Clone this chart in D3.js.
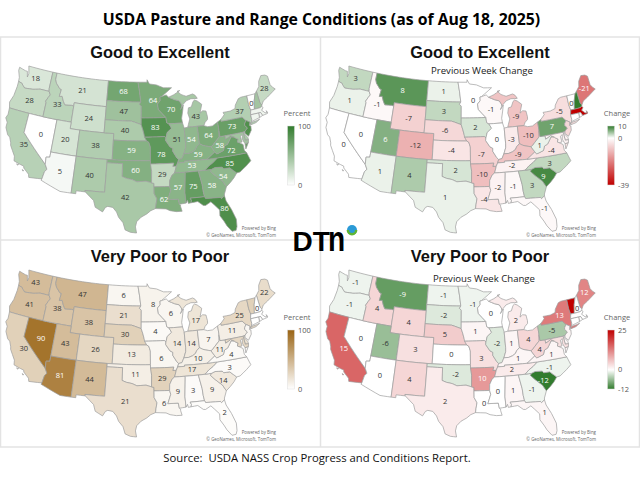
<!DOCTYPE html>
<html>
<head>
<meta charset="utf-8">
<style>
  html, body { margin: 0; padding: 0; background: #fff; }
  svg { display: block; }
</style>
<script src="https://d3js.org/d3.v7.min.js"></script>
</head>
<body>
<div id="chart"></div>
<script>
// values, one per state, same order as stateNames
const stateNames = ["WA","OR","CA","NV","ID","MT","WY","UT","AZ","CO","NM","ND","SD","NE","KS","OK","TX","MN","IA","MO","AR","LA","WI","IL","MI","IN","OH","KY","TN","MS","AL","GA","FL","SC","NC","VA","WV","PA","NY","ME","VT","NH","MA","RI","CT","NJ","DE","MD"];
const goodExcellent = [18,28,35,0,33,21,24,20,5,38,40,68,47,40,59,60,42,64,83,78,29,62,70,51,43,54,64,59,53,57,75,58,86,54,85,72,58,73,37,28,0,45,8,5,8,85,40,45];
const goodChange = [3,1,0,0,-1,8,-7,6,1,-12,4,1,3,-6,-4,2,1,0,2,-7,-10,-4,-1,0,-9,-3,-10,-9,-2,-2,-1,3,-1,9,3,-4,1,7,-5,-21,0,10,-39,0,0,-6,-2,-2];
const poorValues = [43,41,30,90,38,47,38,43,81,26,44,6,21,30,13,11,21,8,4,6,29,6,6,14,17,14,7,10,17,9,3,9,2,14,3,4,11,11,25,22,30,0,0,0,0,5,20,25];
const poorChange = [-1,-1,15,0,4,-9,4,-6,0,3,4,-1,-2,5,0,-2,2,-1,1,3,10,0,0,-2,2,1,4,1,2,0,1,-1,1,-12,-1,1,4,-5,13,12,25,0,0,0,0,1,1,3];

// states that get no printed label
const smallStates = ["MA","RI","CT","NJ","DE","MD"];

const stateRings = {
  WA: [[[-124.7,48.4],[-123.2,48.15],[-122.75,48.15],[-122.4,47.3],[-122.3,47.9],[-122.5,48.4],[-122.76,49],[-117.03,49],[-117.04,46.42],[-116.92,45.99],[-118.98,46],[-119.3,45.93],[-120.5,45.7],[-121.2,45.65],[-122.3,45.55],[-122.8,45.85],[-123.2,46.15],[-124,46.27],[-124.1,46.9],[-124.7,47.9]]],
  OR: [[[-124,46.27],[-123.2,46.15],[-122.8,45.85],[-122.3,45.55],[-121.2,45.65],[-120.5,45.7],[-119.3,45.93],[-118.98,46],[-116.92,45.99],[-116.5,45.5],[-116.85,45],[-117.2,44.4],[-117.03,44.2],[-117.03,42],[-124.21,42],[-124.55,42.85],[-124.1,44],[-123.95,45.5]]],
  CA: [[[-124.21,42],[-120,42],[-120,39],[-114.63,35],[-114.14,34.3],[-114.5,33.9],[-114.72,32.72],[-117.12,32.53],[-117.3,33],[-118.4,33.75],[-118.5,34.03],[-119.2,34.15],[-120.5,34.45],[-120.65,35.15],[-121.9,36.6],[-122,36.95],[-122.5,37.75],[-123,38],[-123.75,39],[-123.8,39.8],[-124.35,40.4],[-124.1,41]],
       [[-119.9,34.08],[-119.5,34.08],[-119.6,33.95]],[[-118.6,33.47],[-118.3,33.35],[-118.5,33.3]]],
  NV: [[[-120,42],[-114.04,42],[-114.04,36.2],[-114.74,36.1],[-114.63,35],[-120,39]]],
  ID: [[[-117.03,49],[-116.05,49],[-116.05,48],[-115.7,47.45],[-114.7,46.7],[-114.35,46.65],[-114.5,45.55],[-113.9,45.65],[-113.45,44.95],[-113,44.45],[-111.5,44.55],[-111.05,44.48],[-111.05,42],[-117.03,42],[-117.03,44.2],[-117.2,44.4],[-116.85,45],[-116.5,45.5],[-116.92,45.99],[-117.04,46.42]]],
  MT: [[[-116.05,49],[-104.05,49],[-104.05,45],[-111.05,45],[-111.05,44.48],[-111.5,44.55],[-113,44.45],[-113.45,44.95],[-113.9,45.65],[-114.5,45.55],[-114.35,46.65],[-114.7,46.7],[-115.7,47.45],[-116.05,48]]],
  WY: [[[-111.05,45],[-104.05,45],[-104.05,41],[-111.05,41]]],
  UT: [[[-114.04,42],[-111.05,42],[-111.05,41],[-109.05,41],[-109.05,37],[-114.04,37]]],
  AZ: [[[-114.04,37],[-109.05,37],[-109.05,31.33],[-111.07,31.33],[-114.81,32.5],[-114.72,32.72],[-114.5,33.9],[-114.14,34.3],[-114.63,35],[-114.74,36.1],[-114.04,36.2]]],
  CO: [[[-109.05,41],[-102.05,41],[-102.05,37],[-109.05,37]]],
  NM: [[[-109.05,37],[-103,37],[-103.04,32],[-106.62,32],[-106.53,31.78],[-108.21,31.78],[-108.21,31.33],[-109.05,31.33]]],
  ND: [[[-104.05,49],[-97.23,49],[-96.85,47.5],[-96.56,45.94],[-104.05,45.94]]],
  SD: [[[-104.05,45.94],[-96.56,45.94],[-96.85,45.6],[-96.45,45.3],[-96.45,43.5],[-96.45,42.49],[-97.85,42.85],[-98.5,43],[-104.05,43]]],
  NE: [[[-104.05,43],[-98.5,43],[-97.85,42.85],[-96.45,42.49],[-96.1,41.7],[-95.85,41],[-95.31,40],[-102.05,40],[-102.05,41],[-104.05,41]]],
  KS: [[[-102.05,40],[-95.31,40],[-94.9,39.8],[-94.61,39.1],[-94.62,37],[-102.04,37]]],
  OK: [[[-103,37],[-94.62,37],[-94.43,35.4],[-94.48,33.64],[-95.5,33.9],[-96.6,33.85],[-97.2,33.8],[-98.1,34.13],[-99.2,34.3],[-100,34.56],[-100,36.5],[-103,36.5]]],
  TX: [[[-103,36.5],[-100,36.5],[-100,34.56],[-99.2,34.3],[-98.1,34.13],[-97.2,33.8],[-96.6,33.85],[-95.5,33.9],[-94.48,33.64],[-94.04,33.55],[-94.04,33.02],[-94.04,32],[-93.55,31.2],[-93.75,30.3],[-93.85,29.7],[-94.7,29.4],[-95.4,28.9],[-96.4,28.4],[-97.15,27.7],[-97.35,26.9],[-97.15,25.96],[-98.2,26.05],[-99.1,26.4],[-99.5,27.5],[-100.3,28.3],[-100.7,29.1],[-101.4,29.77],[-102.3,29.88],[-102.7,29.7],[-103.15,28.98],[-104.5,29.6],[-104.9,30.6],[-106.53,31.78],[-106.62,32],[-103.04,32]]],
  MN: [[[-97.23,49],[-95.15,49],[-95.15,49.38],[-94.6,48.72],[-93,48.55],[-91.4,48.05],[-89.6,48],[-92,46.7],[-92.3,46.66],[-92.29,46.1],[-92.9,45.6],[-92.75,44.75],[-91.22,43.5],[-96.45,43.5],[-96.45,45.3],[-96.85,45.6],[-96.56,45.94],[-96.85,47.5]]],
  IA: [[[-96.45,43.5],[-91.22,43.5],[-91.1,42.7],[-90.65,42.5],[-90.15,41.8],[-91.1,41.2],[-91.42,40.38],[-91.73,40.61],[-95.77,40.58],[-95.85,41],[-96.1,41.7],[-96.45,42.49]]],
  MO: [[[-95.77,40.58],[-91.73,40.61],[-91.42,40.38],[-91.5,40],[-90.7,39],[-90.15,38.75],[-90.2,38.3],[-89.5,37.3],[-89.15,37],[-89.4,36.5],[-89.7,36],[-90.37,36],[-90.15,36.5],[-94.62,36.5],[-94.62,37],[-94.61,39.1],[-94.9,39.8],[-95.31,40]]],
  AR: [[[-94.62,36.5],[-90.15,36.5],[-90.37,36],[-89.7,36],[-90.1,35],[-90.6,34.7],[-91.1,33.9],[-91.17,33],[-94.04,33.02],[-94.04,33.55],[-94.48,33.64],[-94.43,35.4]]],
  LA: [[[-94.04,33.02],[-91.17,33],[-91,32.4],[-91.6,31],[-89.73,31],[-89.6,30.2],[-89.4,30.05],[-89.4,29.8],[-89.2,29.1],[-90.2,29.1],[-91.3,29.3],[-92,29.6],[-93.85,29.7],[-93.75,30.3],[-93.55,31.2],[-94.04,32]]],
  WI: [[[-92,46.7],[-90.9,46.95],[-90.4,46.57],[-89.1,46.13],[-88.1,45.9],[-87.7,45.4],[-87.6,45.1],[-88,44.55],[-87.3,45.2],[-87.55,44.3],[-87.9,43.2],[-87.8,42.5],[-90.65,42.5],[-91.1,42.7],[-91.22,43.5],[-92.75,44.75],[-92.9,45.6],[-92.29,46.1],[-92.3,46.66]]],
  IL: [[[-90.65,42.5],[-87.8,42.5],[-87.55,41.7],[-87.53,39.3],[-87.6,38.7],[-88.05,37.8],[-88.5,37.1],[-89.15,37],[-89.5,37.3],[-90.2,38.3],[-90.15,38.75],[-90.7,39],[-91.5,40],[-91.42,40.38],[-91.1,41.2],[-90.15,41.8]]],
  MI: [[[-86.8,41.76],[-84.8,41.76],[-83.45,41.73],[-83.1,42.2],[-82.5,42.6],[-82.45,43],[-82.6,43.9],[-83.3,44],[-83.9,43.7],[-83.3,45],[-84.2,45.6],[-84.75,45.78],[-85.1,45.6],[-85.6,44.8],[-86.25,44.7],[-86.5,43.9],[-86.2,43],[-86.6,42.2]],
       [[-84.7,46],[-84.1,46],[-84.5,46.5],[-85,46.75],[-86.5,46.5],[-87.6,46.85],[-88.4,47.4],[-87.8,47.47],[-89.2,46.9],[-90.4,46.57],[-89.1,46.13],[-88.1,45.9],[-87.7,45.4],[-87.6,45.1],[-86.6,45.8],[-85.5,46.05]]],
  IN: [[[-87.55,41.7],[-86.8,41.76],[-84.8,41.76],[-84.8,39.1],[-85.4,38.7],[-85.7,38.3],[-86.3,38],[-87.1,37.8],[-88.05,37.8],[-87.6,38.7],[-87.53,39.3]]],
  OH: [[[-84.8,41.76],[-83.45,41.73],[-82.7,41.5],[-81.7,41.5],[-80.52,41.98],[-80.52,40.64],[-80.7,39.7],[-81.7,39],[-82.2,38.6],[-82.6,38.4],[-83.7,38.65],[-84.2,38.8],[-84.8,39.1]]],
  KY: [[[-89.4,36.5],[-89.15,37],[-88.5,37.1],[-88.05,37.8],[-87.1,37.8],[-86.3,38],[-85.7,38.3],[-85.4,38.7],[-84.8,39.1],[-84.2,38.8],[-83.7,38.65],[-82.6,38.4],[-82,37.55],[-83.68,36.6],[-88.07,36.68],[-88.05,36.5]]],
  TN: [[[-90.1,35],[-89.7,36],[-89.4,36.5],[-88.05,36.5],[-88.07,36.68],[-83.68,36.6],[-81.68,36.59],[-82.6,36],[-83.5,35.57],[-84.32,34.99],[-88.2,35]]],
  MS: [[[-90.1,35],[-88.2,35],[-88.1,34.9],[-88.45,31.9],[-88.4,30.3],[-89.6,30.2],[-89.73,31],[-91.6,31],[-91,32.4],[-91.17,33],[-91.1,33.9],[-90.6,34.7]]],
  AL: [[[-88.2,35],[-85.6,34.98],[-85.18,32.86],[-85.13,31.8],[-85,31],[-87.6,31],[-87.4,30.65],[-87.5,30.28],[-88,30.23],[-88.1,30.7],[-88.4,30.3],[-88.45,31.9],[-88.1,34.9]]],
  GA: [[[-85.6,34.98],[-84.32,34.99],[-83.1,35],[-83.35,34.7],[-82.6,34],[-82,33.5],[-81.4,33],[-80.85,32.05],[-81.4,31],[-81.45,30.72],[-82.05,30.36],[-82.2,30.57],[-84.86,30.7],[-85,31],[-85.13,31.8],[-85.18,32.86]]],
  FL: [[[-87.6,31],[-85,31],[-84.86,30.7],[-82.2,30.57],[-82.05,30.36],[-81.45,30.72],[-81.3,29.9],[-80.6,28.5],[-80.05,26.9],[-80.15,25.75],[-80.4,25.2],[-81.1,25.15],[-81.8,26.1],[-82.2,26.9],[-82.75,27.8],[-82.65,28.7],[-83.4,29.5],[-84,30.1],[-85,29.65],[-85.4,29.7],[-86.3,30.38],[-87.5,30.28],[-87.4,30.65]]],
  SC: [[[-83.1,35],[-82.4,35.2],[-81.05,35.1],[-80.8,34.82],[-79.67,34.8],[-78.55,33.85],[-79.2,33.2],[-80,32.6],[-80.85,32.05],[-81.4,33],[-82,33.5],[-82.6,34],[-83.35,34.7]]],
  NC: [[[-84.32,34.99],[-83.5,35.57],[-82.6,36],[-81.68,36.59],[-75.95,36.55],[-75.5,35.25],[-76.5,34.65],[-77.9,33.9],[-78.55,33.85],[-79.67,34.8],[-80.8,34.82],[-81.05,35.1],[-82.4,35.2],[-83.1,35]]],
  VA: [[[-83.68,36.6],[-82,37.55],[-81.7,37.2],[-81.25,37.3],[-80.3,37.55],[-79.95,38.2],[-79.3,38.4],[-78.9,38.8],[-78.35,39.4],[-77.75,39.3],[-77.5,39.1],[-77.05,38.85],[-77.3,38.45],[-77,38.3],[-76.3,37.9],[-76.3,37],[-75.95,36.55],[-81.68,36.59]],
       [[-75.9,37.95],[-75.2,38.03],[-75.95,37.15]]],
  WV: [[[-82.6,38.4],[-82.2,38.6],[-81.7,39],[-80.7,39.7],[-80.52,40.64],[-80.52,39.72],[-79.48,39.72],[-79.48,39.2],[-78.4,39.6],[-77.75,39.3],[-78.35,39.4],[-78.9,38.8],[-79.3,38.4],[-79.95,38.2],[-80.3,37.55],[-81.25,37.3],[-81.7,37.2],[-82,37.55]]],
  PA: [[[-80.52,41.98],[-79.76,42.27],[-79.76,42],[-75.35,42],[-74.7,41.36],[-75.1,40.95],[-75.2,40.7],[-74.75,40.2],[-75.4,39.8],[-75.8,39.72],[-80.52,39.72],[-80.52,40.64]]],
  NY: [[[-79.76,42.27],[-78.9,42.9],[-79.05,43.27],[-77.5,43.27],[-76.4,43.5],[-76.2,44],[-75.3,44.85],[-74.7,45],[-73.35,45],[-73.4,43.6],[-73.25,42.75],[-73.5,42.05],[-73.5,41.3],[-73.65,41],[-74,40.7],[-74,41],[-74.7,41.36],[-75.35,42],[-79.76,42]],
       [[-74.03,40.6],[-73.7,40.87],[-72.6,40.97],[-71.9,41.07],[-72.8,40.7],[-73.9,40.57]]],
  ME: [[[-71.08,45.3],[-70.3,45.9],[-70,46.7],[-69.2,47.45],[-68.3,47.35],[-67.8,47.07],[-67.8,45.7],[-67.45,45.2],[-67,44.85],[-68.5,44.25],[-69.1,44],[-70.2,43.6],[-70.7,43.07],[-70.98,43.4]]],
  VT: [[[-73.35,45],[-71.5,45],[-72.05,44],[-72.46,42.73],[-73.25,42.75],[-73.4,43.6]]],
  NH: [[[-71.5,45],[-71.08,45.3],[-70.98,43.4],[-70.7,43.07],[-70.82,42.87],[-71.25,42.74],[-72.46,42.73],[-72.05,44]]],
  MA: [[[-73.5,42.05],[-73.25,42.75],[-72.46,42.73],[-71.25,42.74],[-70.82,42.87],[-70.6,42.65],[-71.05,42.3],[-70.65,41.95],[-70.5,41.78],[-70.05,41.8],[-70.2,42.07],[-69.95,41.8],[-70.05,41.6],[-70.65,41.55],[-71.13,41.5],[-71.38,42.02],[-71.8,42.02]]],
  RI: [[[-71.8,42.02],[-71.38,42.02],[-71.13,41.5],[-71.85,41.32]]],
  CT: [[[-73.5,42.05],[-71.8,42.02],[-71.85,41.32],[-73.65,41],[-73.5,41.3]]],
  NJ: [[[-74.7,41.36],[-74,41],[-74.25,40.5],[-73.98,40.4],[-74.1,39.75],[-74.9,38.95],[-75.5,39.5],[-75.4,39.8],[-74.75,40.2],[-75.2,40.7],[-75.1,40.95]]],
  DE: [[[-75.8,39.72],[-75.4,39.8],[-75.6,39.45],[-75.1,38.8],[-75.05,38.45],[-75.7,38.46]]],
  MD: [[[-79.48,39.72],[-75.8,39.72],[-75.7,38.46],[-75.05,38.45],[-75.2,38.03],[-75.9,37.95],[-76.25,38.7],[-76.05,39.4],[-76.5,39.2],[-76.4,38.3],[-77,38.3],[-77.3,38.45],[-77.05,38.85],[-77.5,39.1],[-77.75,39.3],[-78.4,39.6],[-79.48,39.2]]]
};

const width = 640, height = 480;
const GREEN = "#327c2e", BROWN = "#9a6414", RED = "#c00000";

const svg = d3.select("#chart").append("svg")
  .attr("width", width)
  .attr("height", height)
  .style("font-family", "'Open Sans', sans-serif");

// long straight borders have to stay straight in lon/lat, so add points along them
function densify(ring) {
  const out = [];
  ring.forEach((p, i) => {
    const q = ring[(i + 1) % ring.length];
    const n = Math.max(1, Math.ceil(Math.abs(q[0] - p[0])));
    d3.range(n).forEach(k => out.push([p[0] + (q[0] - p[0]) * k / n, p[1] + (q[1] - p[1]) * k / n]));
  });
  out.push(out[0]);
  return out;
}

const features = stateNames.map(id => {
  const f = { type: "Feature", id, geometry: { type: "MultiPolygon",
    coordinates: stateRings[id].map(r => {
      const ring = densify(r);
      // d3 wants clockwise rings, flip any that came out the other way
      return [d3.geoArea({ type: "Polygon", coordinates: [ring] }) > 2 * Math.PI ? ring.reverse() : ring];
    }) } };
  return f;
});

const projection = d3.geoAlbers()
  .parallels([29.5, 45.5]).rotate([96, 0]).center([0, 38])
  .fitExtent([[5, 66], [276, 233]], { type: "FeatureCollection", features });
const path = d3.geoPath(projection);

// label shifts where the polygon centre is not where the map puts it
const labelNudge = { LA: [-2, 0], FL: [4, -2], MI: [-1, 1], MN: [2, 1], MO: [0, 3], VA: [1, 1], NC: [-2, 1], SC: [-1, 2], ME: [0, 0], VT: [0, 2], NH: [0, 2], WV: [-1, 1], TN: [-2, 0] };

function percentScale(color) {
  return d3.scaleLinear().domain([0, 100]).range(["#ffffff", color]);
}
function changeScale(low, high, lowColor, highColor) {
  return d3.scaleLinear().domain([low, 0, high]).range([lowColor, "#ffffff", highColor]);
}

const panels = [
  { x: 0, y: 0, title: "Good to Excellent", values: goodExcellent, color: percentScale(GREEN), legend: "Percent", ticks: [0, 100], domain: [0, 100], hide: ["NH"] },
  { x: 320, y: 0, title: "Good to Excellent", sub: "Previous Week Change", subY: 70, subX: 162, values: goodChange, color: changeScale(-39, 10, RED, GREEN), legend: "Change", ticks: [-39, 0, 10], domain: [-39, 10], hide: ["NH"] },
  { x: 0, y: 204, title: "Very Poor to Poor", values: poorValues, color: percentScale(BROWN), legend: "Percent", ticks: [0, 100], domain: [0, 100], hide: ["VT"] },
  { x: 320, y: 204, title: "Very Poor to Poor", sub: "Previous Week Change", subY: 74, subX: 164, values: poorChange, color: changeScale(-12, 25, GREEN, RED), legend: "Change", ticks: [-12, 0, 25], domain: [-12, 25], hide: ["VT"] }
];

// panel frame
const frame = svg.append("g").attr("fill", "none").attr("stroke", "#e3e3e3").attr("stroke-width", 1.5);
frame.append("rect").attr("x", 0.5).attr("y", 37).attr("width", 639).attr("height", 410);
frame.append("line").attr("x1", 320.5).attr("x2", 320.5).attr("y1", 37).attr("y2", 447);
frame.append("line").attr("x1", 0).attr("x2", 640).attr("y1", 240).attr("y2", 240);

svg.append("text")
  .attr("x", 321.5).attr("y", 24.5)
  .attr("text-anchor", "middle")
  .attr("font-size", 15.8).attr("font-weight", 700).attr("fill", "#000")
  .text("USDA Pasture and Range Conditions (as of Aug 18, 2025)");

svg.append("text")
  .attr("x", 317).attr("y", 462)
  .attr("text-anchor", "middle")
  .attr("font-size", 11.3).attr("fill", "#111")
  .style("white-space", "pre")
  .text("Source:  USDA NASS Crop Progress and Conditions Report.");

panels.forEach((p, pi) => {
  const g = svg.append("g").attr("transform", `translate(${p.x},${p.y})`);

  g.append("text")
    .attr("x", 160).attr("y", 58)
    .attr("text-anchor", "middle")
    .style("font-family", "'Liberation Sans', Arial, sans-serif")
    .attr("font-size", 16.4).attr("font-weight", 700).attr("fill", "#111")
    .text(p.title);

  if (p.sub) {
    g.append("text")
      .attr("x", p.subX).attr("y", p.subY + 3.5)
      .attr("text-anchor", "middle")
      .attr("font-size", 9.6).attr("fill", "#222")
      .text(p.sub);
  }

  g.append("g").selectAll("path")
    .data(features)
    .join("path")
    .attr("d", path)
    .attr("fill", (d, i) => p.color(p.values[i]))
    .attr("stroke", "#9d9d9d")
    .attr("stroke-width", 0.7)
    .attr("stroke-linejoin", "round");

  g.append("g").selectAll("text")
    .data(features.filter(f => !smallStates.includes(f.id) && !p.hide.includes(f.id)))
    .join("text")
    .attr("transform", d => {
      const c = path.centroid({ type: "Polygon", coordinates: d.geometry.coordinates[0] });
      const n = labelNudge[d.id] || [0, 0];
      return `translate(${c[0] + n[0]},${c[1] + n[1]})`;
    })
    .attr("text-anchor", "middle")
    .attr("dy", "0.35em")
    .attr("font-size", 7.5)
    .attr("fill", d => {
      const v = p.values[stateNames.indexOf(d.id)];
      return d3.lab(p.color(v)).l < 72.5 ? "#fff" : "#333";
    })
    .text(d => p.values[stateNames.indexOf(d.id)]);

  // credits
  const credit = g.append("g").attr("text-anchor", "end").attr("font-size", 4.4).attr("fill", "#666");
  credit.append("text").attr("x", 276).attr("y", 230).text("Powered by Bing");
  credit.append("text").attr("x", 276).attr("y", 237).text("© GeoNames, Microsoft, TomTom");

  // legend
  const gradId = "grad" + pi;
  const yLegend = d3.scaleLinear().domain(p.domain).range([185, 126]);
  const stops = d3.range(0, 1.001, 0.1).map(t => p.domain[0] + t * (p.domain[1] - p.domain[0]));
  g.append("linearGradient").attr("id", gradId)
    .attr("x1", 0).attr("x2", 0).attr("y1", 1).attr("y2", 0)
    .selectAll("stop").data(stops.concat(p.ticks).sort(d3.ascending)).join("stop")
    .attr("offset", d => (d - p.domain[0]) / (p.domain[1] - p.domain[0]))
    .attr("stop-color", d => p.color(d));
  g.append("text").attr("x", 297).attr("y", 116)
    .attr("text-anchor", "middle").attr("font-size", 7.5).attr("fill", "#666").text(p.legend);
  g.append("rect").attr("x", 287.5).attr("y", 126).attr("width", 7).attr("height", 59)
    .attr("fill", `url(#${gradId})`).attr("stroke", "#ddd").attr("stroke-width", 0.5);
  g.append("g").selectAll("text").data(p.ticks).join("text")
    .attr("x", 298).attr("y", d => yLegend(d))
    .attr("dy", "0.35em").attr("font-size", 7.5).attr("fill", "#555")
    .text(d => d);
});

// logo
const logo = svg.append("g").style("font-family", "'Liberation Sans', Arial, sans-serif").attr("font-weight", 700).attr("fill", "#000");
logo.append("text").attr("x", 292.5).attr("y", 251).attr("font-size", 28).text("DT");
logo.append("text").attr("transform", "translate(328,251) scale(0.78,1)").attr("font-size", 36).text("n");
logo.append("circle").attr("cx", 352).attr("cy", 230).attr("r", 5).attr("fill", "#2b9ad6");
logo.append("path")
  .attr("transform", "translate(352,230)")
  .attr("d", d3.arc()({ innerRadius: 3, outerRadius: 5.4, startAngle: Math.PI / 2, endAngle: 3 * Math.PI / 2 }))
  .attr("fill", "#5fb532");
</script>
</body>
</html>
